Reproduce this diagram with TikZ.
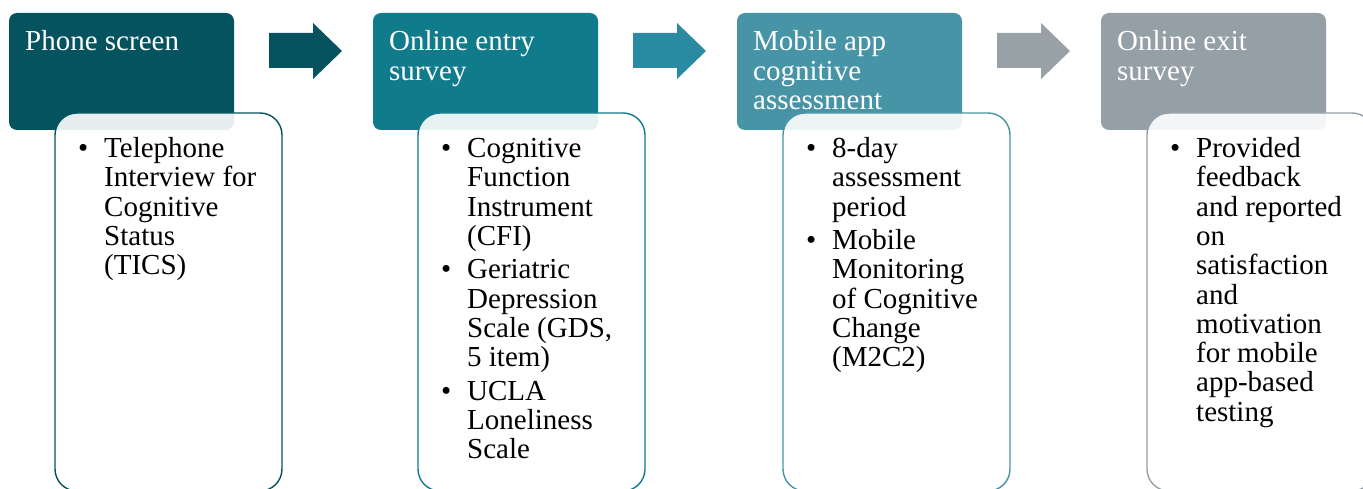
\documentclass[tikz,border=0pt]{standalone}
\usepackage{fontspec}
\setmainfont{Liberation Serif}
\usetikzlibrary{calc}

\definecolor{stepA}{HTML}{05535F}
\definecolor{stepB}{HTML}{107B8B}
\definecolor{stepC}{HTML}{4894A7}
\definecolor{stepD}{HTML}{95A0A6}
\definecolor{arrowB}{HTML}{2A8AA1}
\definecolor{arrowC}{HTML}{98A1A6}

\newcommand\bodyfont{\fontsize{29}{29.3}\selectfont}

\begin{document}
\begin{tikzpicture}[x=1pt,y=-1pt,
  header/.style={fill=#1, rounded corners=8pt, minimum width=225pt,
    minimum height=117pt, anchor=north west, inner sep=0pt, outer sep=0pt},
  detail/.style={draw=#1, line width=1.4pt, rounded corners=22pt,
    fill=white, fill opacity=0.9, minimum width=227pt, minimum height=378pt,
    anchor=north west, inner sep=0pt, outer sep=0pt},
  htext/.style={anchor=north west, inner sep=0pt, text=white, font=\bodyfont},
  btext/.style={anchor=north west, inner sep=0pt, text=black, font=\bodyfont},
  flow/.pic={\fill[#1] (0,10) -- (44,10) -- (44,0) -- (73,28) -- (44,56)
    -- (44,45) -- (0,45) -- cycle;}
]
\useasboundingbox (0,0) rectangle (1363,489);
\clip (0,0) rectangle (1363,489);

% stage headers
\node[header=stepA] (h1) at (9,13) {};
\node[header=stepB] (h2) at (373,13) {};
\node[header=stepC] (h3) at (737,13) {};
\node[header=stepD] (h4) at (1101,13) {};

% block arrows between the stages
\pic at ($(h1.north east)+(35,10)$) {flow=stepA};
\pic at ($(h2.north east)+(35,10)$) {flow=arrowB};
\pic at ($(h3.north east)+(35,10)$) {flow=arrowC};

% header titles
\node[htext] (l1) at ($(h1.north west)+(16,17.2)$)
  {\begin{tabular}{@{}l@{}}Phone screen\end{tabular}};
\node[htext] (l2) at ($(h2.north west)+(16,17.2)$)
  {\begin{tabular}{@{}l@{}}Online entry\\survey\end{tabular}};
\node[htext] (l3) at ($(h3.north west)+(16,17.2)$)
  {\begin{tabular}{@{}l@{}}Mobile app\\cognitive\\assessment\end{tabular}};
\node[htext] (l4) at ($(h4.north west)+(16,17.2)$)
  {\begin{tabular}{@{}l@{}}Online exit\\survey\end{tabular}};

% detail cards overlapping the headers
\node[detail=stepA] (d1) at (55,113) {};
\node[detail=stepB] (d2) at (418,113) {};
\node[detail=stepC] (d3) at (783,113) {};
\node[detail=stepD] (d4) at (1147,113) {};

% bullet lists
\node[btext] (b1) at ($(d1.north west)+(23,23.8)$)
  {\begin{tabular}{@{}p{26pt}@{}l@{}}
   \textbullet & Telephone\\
   & Interview for\\
   & Cognitive\\
   & Status\\
   & (TICS)
  \end{tabular}};
\node[btext] (b2) at ($(d2.north west)+(23,23.8)$)
  {\begin{tabular}{@{}p{26pt}@{}l@{}}
   \textbullet & Cognitive\\
   & Function\\
   & Instrument\\
   & (CFI)\\[4.2pt]
   \textbullet & Geriatric\\
   & Depression\\
   & Scale (GDS,\\
   & 5 item)\\[4.2pt]
   \textbullet & UCLA\\
   & Loneliness\\
   & Scale
  \end{tabular}};
\node[btext] (b3) at ($(d3.north west)+(23,23.8)$)
  {\begin{tabular}{@{}p{26pt}@{}l@{}}
   \textbullet & 8-day\\
   & assessment\\
   & period\\[4.2pt]
   \textbullet & Mobile\\
   & Monitoring\\
   & of Cognitive\\
   & Change\\
   & (M2C2)
  \end{tabular}};
\node[btext] (b4) at ($(d4.north west)+(23,23.8)$)
  {\begin{tabular}{@{}p{26pt}@{}l@{}}
   \textbullet & Provided\\
   & feedback\\
   & and reported\\
   & on\\
   & satisfaction\\
   & and\\
   & motivation\\
   & for mobile\\
   & app-based\\
   & testing
  \end{tabular}};
\end{tikzpicture}
\end{document}
